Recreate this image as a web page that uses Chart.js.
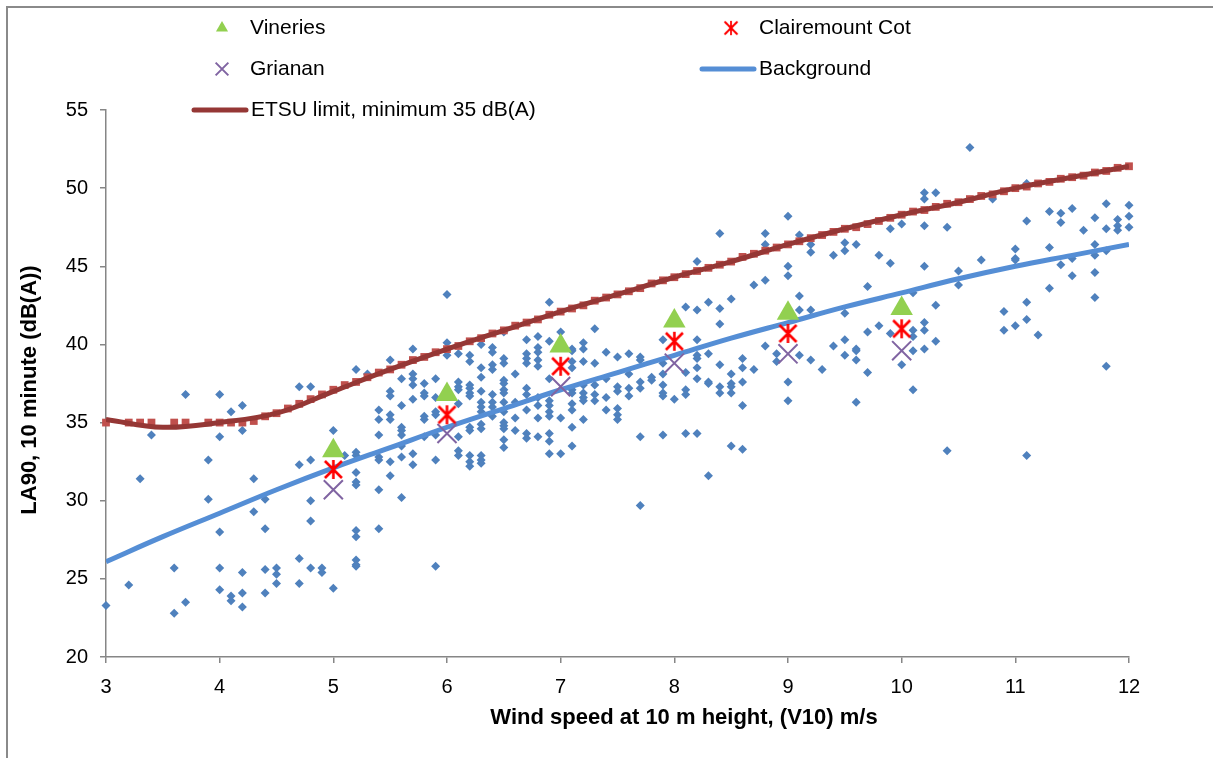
<!DOCTYPE html>
<html>
<head>
<meta charset="utf-8">
<title>LA90 against wind speed</title>
<script src="https://cdn.jsdelivr.net/npm/chart.js@4.4.1/dist/chart.umd.min.js"></script>
<style>
  html, body { margin: 0; padding: 0; background: #fff; }
  #chart { display: block; }
</style>
</head>
<body>
<canvas id="chart" width="1213" height="758"></canvas>
<script>
const FONT = '"Liberation Sans", Arial, sans-serif';

// measured background samples, one row per wind speed: [speed, level, level, ...]
const measuredBySpeed = [
  [3.0, 23.3], [3.2, 24.6], [3.3, 31.4], [3.4, 34.2],
  [3.6, 25.7, 22.8], [3.7, 36.8, 23.5], [3.9, 32.6, 30.1],
  [4.0, 36.8, 34.1, 28.0, 25.7, 24.3], [4.1, 35.7, 23.9, 23.6],
  [4.2, 36.1, 34.5, 25.4, 24.1, 23.2], [4.3, 31.4, 29.3],
  [4.4, 30.1, 28.2, 25.6, 24.1], [4.5, 25.7, 25.3, 24.7],
  [4.7, 37.3, 32.3, 26.3, 24.7], [4.8, 37.3, 32.6, 30.0, 28.7, 25.7],
  [4.9, 25.7, 25.4], [5.0, 34.5, 24.4], [5.1, 32.9],
  [5.2, 38.4, 33.1, 32.9, 31.8, 31.2, 31.0, 28.1, 27.7, 26.2, 25.9, 25.8],
  [5.3, 38.1], [5.4, 35.8, 35.2, 34.2, 32.8, 32.6, 30.7, 28.2],
  [5.5, 39.0, 37.0, 36.7, 35.5, 35.2, 32.5, 31.6],
  [5.6, 37.8, 36.1, 34.7, 34.5, 34.2, 33.5, 32.8, 30.2],
  [5.7, 39.7, 38.1, 37.8, 37.4, 36.5, 33.0, 32.3],
  [5.8, 37.5, 36.9, 36.7, 35.4, 35.2, 34.1],
  [5.9, 37.8, 36.6, 35.7, 35.5, 34.2, 32.6, 25.8],
  [6.0, 43.2, 40.1, 39.3],
  [6.1, 39.4, 37.6, 37.3, 37.1, 36.2, 34.1, 33.2, 32.9],
  [6.2, 39.3, 38.9, 37.4, 37.2, 36.9, 36.7, 34.7, 34.5, 32.9, 32.5, 32.2],
  [6.3, 40.0, 38.5, 37.9, 37.0, 36.3, 36.0, 35.7, 34.9, 34.6, 32.9, 32.6, 32.4],
  [6.4, 39.8, 39.5, 38.7, 38.4, 36.8, 36.3, 36.0, 35.4],
  [6.5, 40.8, 39.1, 38.8, 37.7, 37.5, 37.1, 36.9, 36.3, 35.7, 35.0, 34.8, 34.6, 33.9, 33.4],
  [6.6, 38.1, 36.3, 35.3, 34.5],
  [6.7, 40.3, 39.4, 39.1, 38.8, 37.2, 36.8, 35.8, 34.3, 34.0],
  [6.8, 40.5, 39.8, 39.5, 39.0, 38.6, 36.6, 36.1, 35.3, 34.1],
  [6.9, 42.7, 40.2, 37.8, 36.4, 36.1, 35.7, 35.4, 34.3, 33.8, 33.0],
  [7.0, 40.8, 35.3, 33.0],
  [7.1, 39.7, 39.6, 38.9, 38.5, 37.1, 36.9, 36.2, 35.8, 34.7, 33.5],
  [7.2, 40.1, 39.7, 38.9, 37.4, 36.9, 36.6, 36.4, 35.2],
  [7.3, 41.0, 38.8, 37.4, 36.8, 36.4], [7.4, 39.5, 37.8, 36.6, 35.8],
  [7.5, 39.2, 37.3, 37.0, 35.9, 35.5, 35.2], [7.6, 39.4, 38.1, 37.2, 36.7],
  [7.7, 39.2, 39.0, 37.6, 37.2, 34.1, 29.7], [7.8, 37.9, 37.7],
  [7.9, 40.3, 38.8, 38.1, 37.4, 36.9, 36.7, 34.2], [8.0, 36.5],
  [8.1, 42.4, 38.2, 37.1, 36.8, 34.3],
  [8.2, 45.3, 42.2, 40.3, 39.3, 39.1, 38.5, 37.8, 34.3],
  [8.3, 42.7, 39.4, 37.6, 37.5, 31.6], [8.4, 47.1, 42.3, 41.3, 38.7, 37.3, 36.9],
  [8.5, 42.9, 38.1, 37.5, 37.3, 36.9, 33.5], [8.6, 39.1, 38.5, 37.6, 36.1, 33.3],
  [8.7, 43.8, 38.4], [8.8, 47.1, 46.4, 44.1, 39.9], [8.9, 39.4, 38.9],
  [9.0, 48.2, 45.0, 44.4, 37.6, 36.4], [9.1, 47.0, 43.1, 42.2, 39.3],
  [9.2, 46.4, 45.9, 42.2, 39.0], [9.3, 38.4], [9.4, 45.7, 39.9],
  [9.5, 46.5, 46.0, 42.0, 40.3, 39.3], [9.6, 46.4, 39.7, 39.6, 39.0, 36.3],
  [9.7, 43.7, 40.8, 38.2], [9.8, 45.7, 41.2], [9.9, 47.4, 45.2, 40.7],
  [10.0, 47.7, 38.7], [10.1, 43.3, 40.9, 40.5, 39.6, 37.1],
  [10.2, 49.7, 49.3, 47.6, 45.0, 41.4, 40.9, 39.7], [10.3, 49.7, 42.5, 40.2],
  [10.4, 47.5, 33.2], [10.5, 44.7, 43.8], [10.6, 52.6], [10.7, 45.4], [10.8, 49.3],
  [10.9, 42.1, 40.9], [11.0, 46.1, 45.5, 45.4, 41.2],
  [11.1, 50.3, 47.9, 42.7, 41.6, 32.9], [11.2, 40.6], [11.3, 48.5, 46.2, 43.6],
  [11.4, 48.4, 47.8, 45.1], [11.5, 48.7, 45.5, 44.4], [11.6, 47.3],
  [11.7, 48.1, 46.4, 45.7, 44.6, 43.0], [11.8, 49.0, 47.4, 46.0, 38.6],
  [11.9, 48.0, 47.6, 47.3], [12.0, 48.9, 48.2, 47.5]
];

// fitted curves
const curveSpeeds = [3, 3.5, 4, 4.5, 5, 5.5, 6, 6.5, 7, 7.5, 8, 8.5, 9, 9.5, 10, 10.5, 11, 11.5, 12];
const backgroundCurve = [26.1, 27.7, 29.2, 30.7, 32.1, 33.4, 34.7, 35.9, 37.1, 38.2, 39.3, 40.4, 41.4, 42.4, 43.3, 44.2, 45.0, 45.7, 46.4];
const etsuCurve = [35.2, 34.7, 35.0, 35.6, 37.0, 38.4, 39.7, 40.9, 42.1, 43.2, 44.3, 45.3, 46.4, 47.4, 48.3, 49.1, 50.0, 50.7, 51.4];

// ETSU limit values at each measured wind speed
const limitSpeeds = [3.0, 3.2, 3.3, 3.4, 3.6, 3.7, 3.9, 4.0, 4.1, 4.2, 4.3, 4.4, 4.5, 4.6, 4.7, 4.8, 4.9,
  5.0, 5.1, 5.2, 5.3, 5.4, 5.5, 5.6, 5.7, 5.8, 5.9, 6.0, 6.1, 6.2, 6.3, 6.4, 6.5, 6.6, 6.7, 6.8, 6.9,
  7.0, 7.1, 7.2, 7.3, 7.4, 7.5, 7.6, 7.7, 7.8, 7.9, 8.0, 8.1, 8.2, 8.3, 8.4, 8.5, 8.6, 8.7, 8.8, 8.9,
  9.0, 9.1, 9.2, 9.3, 9.4, 9.5, 9.6, 9.7, 9.8, 9.9, 10.0, 10.1, 10.2, 10.3, 10.4, 10.5, 10.6, 10.7, 10.8, 10.9,
  11.0, 11.1, 11.2, 11.3, 11.4, 11.5, 11.6, 11.7, 11.8, 11.9, 12.0];
const limitLevels = [35.0, 35.0, 35.0, 35.0, 35.0, 35.0, 35.0, 35.0, 35.0, 35.0, 35.1, 35.4, 35.6, 35.9, 36.2, 36.5, 36.8,
  37.1, 37.4, 37.6, 37.9, 38.2, 38.4, 38.7, 39.0, 39.2, 39.5, 39.7, 39.9, 40.2, 40.4, 40.7, 40.9, 41.2, 41.4, 41.6, 41.9,
  42.1, 42.3, 42.5, 42.8, 43.0, 43.2, 43.4, 43.6, 43.9, 44.1, 44.3, 44.5, 44.7, 44.9, 45.1, 45.3, 45.6, 45.8, 46.0, 46.2,
  46.4, 46.6, 46.8, 47.0, 47.2, 47.4, 47.5, 47.7, 47.9, 48.1, 48.3, 48.5, 48.6, 48.8, 49.0, 49.1, 49.3, 49.5, 49.6, 49.8,
  50.0, 50.1, 50.3, 50.4, 50.6, 50.7, 50.8, 51.0, 51.1, 51.3, 51.4];

// predicted levels at the properties
const locationSpeeds = [5, 6, 7, 8, 9, 10];
const vineries = [33.2, 36.8, 39.9, 41.5, 42.0, 42.3];
const clairemount = [32.0, 35.5, 38.6, 40.2, 40.7, 41.0];
const grianan = [30.7, 34.3, 37.3, 38.8, 39.4, 39.6];

const xTitle = 'Wind speed at 10 m height, (V10) m/s';
const yTitle = 'LA90, 10 minute (dB(A))';

const pairs = (xs, ys) => xs.map((x, i) => ({ x: x, y: ys[i] }));

const measuredPoints = [];
measuredBySpeed.forEach(row => {
  row.slice(1).forEach(v => measuredPoints.push({ x: row[0], y: v }));
});

// Excel style star marker: a cross with an upright stroke through it
function starMarker(size, color) {
  const c = document.createElement('canvas');
  c.width = size;
  c.height = size;
  const g = c.getContext('2d');
  const a = 2, b = size - 2, mid = size / 2;
  g.strokeStyle = color;
  g.lineWidth = 2.6;
  g.beginPath();
  g.moveTo(a, a); g.lineTo(b, b);
  g.moveTo(b, a); g.lineTo(a, b);
  g.moveTo(mid, a - 1); g.lineTo(mid, b + 1);
  g.stroke();
  return c;
}
const starImg = starMarker(21, '#FF0000');

const frame = {
  id: 'frame',
  beforeDraw(chart) {
    const ctx = chart.ctx;
    ctx.save();
    ctx.fillStyle = '#fff';
    ctx.fillRect(0, 0, chart.width, chart.height);
    ctx.strokeStyle = '#8a8a8a';
    ctx.lineWidth = 2;
    ctx.beginPath();
    ctx.moveTo(7, chart.height);
    ctx.lineTo(7, 7);
    ctx.lineTo(chart.width, 7);
    ctx.stroke();
    ctx.restore();
  }
};

// axis titles sit where the spreadsheet put them, not centred on the plot
const axisTitles = {
  id: 'axisTitles',
  afterDraw(chart) {
    const ctx = chart.ctx;
    ctx.save();
    ctx.fillStyle = '#000';
    ctx.font = 'bold 22px ' + FONT;
    ctx.textAlign = 'center';
    ctx.textBaseline = 'middle';
    ctx.fillText(xTitle, 684, 718);
    ctx.translate(30, 390);
    ctx.rotate(-Math.PI / 2);
    ctx.fillText(yTitle, 0, 0);
    ctx.restore();
  }
};

// two column legend like the original spreadsheet
const legendBox = {
  id: 'legendBox',
  afterDraw(chart) {
    const ctx = chart.ctx;
    const ds = chart.data.datasets;
    const H = Chart.helpers;
    ctx.save();
    ctx.font = '21px ' + FONT;
    ctx.fillStyle = '#000';
    ctx.textBaseline = 'middle';
    ctx.textAlign = 'left';

    const marker = (d, x, y) => {
      ctx.save();
      ctx.fillStyle = d.backgroundColor;
      ctx.strokeStyle = d.borderColor;
      ctx.lineWidth = d.borderWidth || 1;
      H.drawPoint(ctx, { pointStyle: d.pointStyle, radius: d.legendRadius, rotation: 0, borderWidth: d.borderWidth }, x, y);
      ctx.restore();
    };
    const line = (d, x0, x1, y) => {
      ctx.save();
      ctx.strokeStyle = d.borderColor;
      ctx.lineWidth = 5;
      ctx.lineCap = 'round';
      ctx.beginPath();
      ctx.moveTo(x0, y);
      ctx.lineTo(x1, y);
      ctx.stroke();
      ctx.restore();
    };

    marker(ds[0], 222, 28);
    ctx.fillText(ds[0].label, 250, 28);
    ctx.drawImage(starImg, 731 - 8, 28 - 8, 16, 16);
    ctx.fillText(ds[1].label, 759, 28);
    marker(ds[2], 222, 69);
    ctx.fillText(ds[2].label, 250, 69);
    line(ds[3], 702, 754, 69);
    ctx.fillText(ds[3].label, 759, 69);
    line(ds[4], 194, 246, 110);
    ctx.fillText(ds[4].label, 251, 110);
    ctx.restore();
  }
};

const chart = new Chart(document.getElementById('chart'), {
  type: 'scatter',
  data: {
    datasets: [
      {
        label: 'Vineries', data: pairs(locationSpeeds, vineries),
        pointStyle: 'triangle', pointRadius: 13, legendRadius: 7,
        backgroundColor: '#92D050', borderColor: '#92D050', borderWidth: 0, clip: false
      },
      {
        label: 'Clairemount Cot', data: pairs(locationSpeeds, clairemount),
        pointStyle: starImg, pointRadius: 10,
        backgroundColor: '#FF0000', borderColor: '#FF0000', borderWidth: 0, clip: false
      },
      {
        label: 'Grianan', data: pairs(locationSpeeds, grianan),
        pointStyle: 'crossRot', pointRadius: 13.5, legendRadius: 9,
        backgroundColor: '#8064A2', borderColor: '#8064A2', borderWidth: 2, clip: false
      },
      {
        label: 'Background', data: pairs(curveSpeeds, backgroundCurve),
        showLine: true, pointRadius: 0, tension: 0.4,
        borderColor: '#558ED5', backgroundColor: '#558ED5', borderWidth: 5
      },
      {
        label: 'ETSU limit, minimum 35 dB(A)', data: pairs(curveSpeeds, etsuCurve),
        showLine: true, pointRadius: 0, tension: 0.4,
        borderColor: '#953735', backgroundColor: '#953735', borderWidth: 5
      },
      {
        label: 'ETSU limit points', data: pairs(limitSpeeds, limitLevels),
        pointStyle: 'rect', pointRadius: 5.5,
        backgroundColor: '#C0504D', borderColor: '#C0504D', borderWidth: 0, clip: false
      },
      {
        label: 'Measured LA90', data: measuredPoints,
        pointStyle: 'rectRot', pointRadius: 4.5,
        backgroundColor: '#4F81BD', borderColor: '#4F81BD', borderWidth: 0, clip: false
      }
    ]
  },
  options: {
    responsive: false,
    animation: false,
    devicePixelRatio: 1,
    events: [],
    layout: { padding: { left: 0, right: 84, top: 110, bottom: 0 } },
    plugins: {
      legend: { display: false },
      tooltip: { enabled: false }
    },
    scales: {
      x: {
        type: 'linear', min: 3, max: 12,
        afterFit: s => { s.height = 101; },
        ticks: { stepSize: 1, color: '#000', padding: 12, font: { family: FONT, size: 20 } },
        grid: { drawOnChartArea: false, drawTicks: true, tickLength: 6, color: '#868686', lineWidth: 1.5 },
        border: { color: '#868686', width: 1.5 }
      },
      y: {
        min: 20, max: 55,
        afterFit: s => { s.width = 106; },
        ticks: { stepSize: 5, color: '#000', padding: 12, font: { family: FONT, size: 20 } },
        grid: { drawOnChartArea: false, drawTicks: true, tickLength: 6, color: '#868686', lineWidth: 1.5 },
        border: { color: '#868686', width: 1.5 }
      }
    }
  },
  plugins: [frame, axisTitles, legendBox]
});
</script>
</body>
</html>
